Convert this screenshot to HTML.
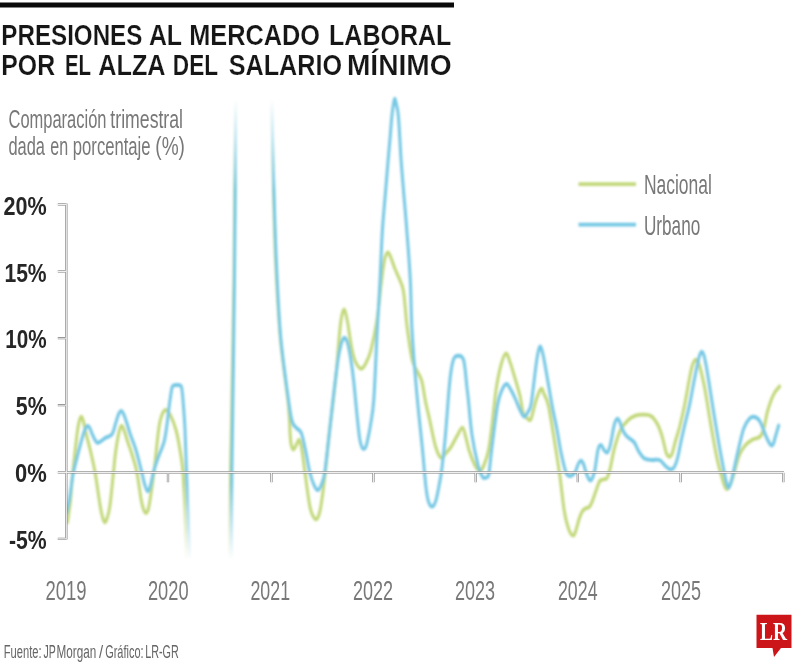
<!DOCTYPE html>
<html lang="es"><head><meta charset="utf-8"><title>Presiones al mercado laboral por el alza del salario mínimo</title>
<style>
html,body{margin:0;padding:0;background:#fff;}
body{width:800px;height:666px;overflow:hidden;font-family:"Liberation Sans",sans-serif;}
svg{display:block}
text{font-family:"Liberation Sans",sans-serif}
.t{font-weight:700;fill:#141414;stroke:#fff;stroke-width:0.2px}
.g{fill:#787878}
.f{fill:#666}
.yl{font-weight:700;fill:#262626}
.lr{font-family:"Liberation Serif",serif;font-weight:700;fill:#fff}
</style></head><body>
<svg width="800" height="666" viewBox="0 0 800 666">
<defs>
<linearGradient id="ft" x1="0" y1="0" x2="0" y2="1"><stop offset="0" stop-color="#fff" stop-opacity="1"/><stop offset="1" stop-color="#fff" stop-opacity="0"/></linearGradient>
<linearGradient id="fb" x1="0" y1="0" x2="0" y2="1"><stop offset="0" stop-color="#fff" stop-opacity="0"/><stop offset="1" stop-color="#fff" stop-opacity="1"/></linearGradient>
<filter id="bl" filterUnits="userSpaceOnUse" x="0" y="0" width="800" height="666"><feGaussianBlur stdDeviation="1.15"/></filter>
<filter id="ba" filterUnits="userSpaceOnUse" x="0" y="0" width="800" height="666"><feGaussianBlur stdDeviation="0.3"/></filter>
<filter id="bt" filterUnits="userSpaceOnUse" x="0" y="0" width="800" height="666"><feGaussianBlur stdDeviation="0.6"/></filter>
<clipPath id="cp"><rect x="66" y="80" width="734" height="500"/></clipPath>
</defs>
<rect width="800" height="666" fill="#fff"/>
<rect x="0" y="2.5" width="454" height="5" fill="#0a0a0a"/>
<g clip-path="url(#cp)"><g filter="url(#bl)">
<g transform="scale(0.78,1)" fill="none" stroke="#c2d87a" stroke-width="3.9" stroke-linecap="round" stroke-linejoin="round">
<path d="M86.5 522.0C86.9 520.2 87.8 514.7 88.5 511.0C89.1 507.3 89.6 506.5 90.4 500.0C91.2 493.5 92.2 481.2 93.3 472.0C94.5 462.8 96.2 452.0 97.2 445.0C98.2 438.0 98.7 434.1 99.5 430.0C100.3 425.9 101.0 422.7 101.8 420.5C102.6 418.3 103.3 416.5 104.1 416.6C104.9 416.7 105.7 417.9 106.8 421.0C107.9 424.1 109.2 429.8 110.8 435.0C112.4 440.2 114.4 445.8 116.3 452.0C118.1 458.2 119.8 463.2 121.8 472.0C123.8 480.8 126.6 497.4 128.2 505.0C129.8 512.6 130.5 514.6 131.5 517.5C132.6 520.4 133.5 522.4 134.5 522.4C135.5 522.4 136.5 520.4 137.6 517.5C138.7 514.6 139.7 512.6 141.0 505.0C142.4 497.4 144.3 480.8 145.5 472.0C146.7 463.2 147.1 458.2 148.2 452.0C149.3 445.8 150.7 438.9 151.9 434.5C153.1 430.1 154.3 426.6 155.5 425.9C156.7 425.2 157.8 427.8 159.2 430.5C160.6 433.2 162.1 437.9 163.8 442.0C165.6 446.1 167.6 450.0 169.5 455.0C171.4 460.0 173.5 464.5 175.4 472.0C177.3 479.5 179.6 493.8 181.0 500.0C182.5 506.2 183.1 507.3 184.1 509.5C185.1 511.7 186.2 513.0 187.2 513.0C188.2 513.0 189.1 511.7 190.0 509.5C190.9 507.3 191.1 506.2 192.3 500.0C193.5 493.8 195.6 483.7 197.4 472.0C199.3 460.3 201.7 439.3 203.3 430.0C204.9 420.7 205.6 419.3 207.1 416.0C208.5 412.7 210.4 410.1 212.3 410.0C214.2 409.9 216.4 412.2 218.6 415.5C220.8 418.8 223.6 424.2 225.6 430.0C227.7 435.8 229.3 443.0 230.8 450.0C232.3 457.0 233.5 461.3 234.6 472.0C235.7 482.7 236.3 497.7 237.2 514.0C238.0 530.3 239.3 560.7 239.7 570.0"/>
<path d="M294.4 570.0C294.6 553.7 294.7 520.3 295.6 472.0C296.6 423.7 298.8 343.3 299.9 280.0C300.9 216.7 301.7 123.3 302.1 92.0"/>
<path d="M348.2 92.0C348.6 106.7 349.5 152.0 350.4 180.0C351.2 208.0 351.9 234.2 353.3 260.0C354.8 285.8 357.0 315.0 359.1 335.0C361.2 355.0 364.2 368.8 365.9 380.0C367.6 391.2 368.5 395.3 369.4 402.0C370.2 408.7 370.7 414.3 371.2 420.0C371.6 425.7 371.6 431.7 372.1 436.0C372.5 440.3 373.0 443.8 373.7 446.0C374.4 448.2 375.2 449.5 376.2 449.5C377.1 449.5 378.0 447.6 379.2 446.0C380.4 444.4 382.2 439.8 383.3 439.8C384.5 439.8 385.4 443.4 386.2 446.0C386.9 448.6 387.3 451.0 388.1 455.3C388.9 459.6 389.4 463.6 390.9 472.0C392.4 480.4 395.3 498.5 397.1 505.8C398.8 513.1 399.9 513.8 401.3 516.0C402.7 518.2 404.1 519.6 405.4 519.3C406.7 519.0 408.1 517.0 409.2 514.0C410.4 510.9 411.1 508.0 412.4 501.0C413.7 494.0 415.5 482.8 417.1 472.0C418.6 461.2 420.1 448.0 421.8 436.0C423.5 424.0 425.7 411.0 427.3 400.0C428.9 389.0 430.3 379.2 431.4 370.0C432.5 360.8 433.0 353.3 434.0 345.0C434.9 336.7 436.0 325.9 437.2 320.0C438.4 314.1 439.7 309.5 441.0 309.5C442.4 309.5 443.8 315.2 445.1 320.0C446.4 324.8 447.6 332.7 448.7 338.0C449.9 343.3 450.6 347.8 451.9 352.0C453.2 356.2 454.5 360.2 456.4 363.0C458.3 365.8 461.2 368.7 463.3 368.7C465.5 368.7 467.2 366.1 469.2 363.0C471.3 359.9 473.3 357.2 475.6 350.0C478.0 342.8 481.2 330.8 483.3 320.0C485.5 309.2 486.9 295.0 488.5 285.0C490.1 275.0 491.5 265.4 492.9 260.0C494.4 254.6 496.0 252.8 497.4 252.5C498.8 252.2 499.8 255.2 501.3 258.0C502.8 260.8 504.0 264.2 506.4 269.0C508.9 273.8 513.9 281.0 516.0 287.0C518.2 293.0 518.3 298.5 519.2 305.0C520.2 311.5 520.3 317.0 521.8 326.0C523.3 335.0 526.1 351.5 528.2 359.0C530.3 366.5 532.6 367.4 534.6 371.0C536.7 374.6 538.7 375.3 540.5 380.5C542.4 385.7 544.0 395.6 545.6 402.0C547.3 408.4 548.5 411.7 550.6 419.0C552.7 426.3 555.8 439.6 558.2 446.0C560.6 452.4 562.9 456.4 565.1 457.6C567.4 458.8 569.6 454.8 571.8 453.0C574.0 451.2 575.9 449.8 578.2 447.0C580.6 444.2 583.4 439.2 585.9 436.0C588.4 432.8 591.0 427.3 592.9 427.6C594.9 427.9 596.0 434.3 597.4 438.0C598.8 441.7 599.8 446.2 601.3 450.0C602.8 453.8 604.8 458.0 606.4 461.0C608.0 464.0 609.5 466.3 611.0 468.0C612.5 469.7 613.8 471.5 615.4 471.0C617.0 470.5 618.7 468.5 620.5 465.0C622.4 461.5 624.7 456.7 626.4 450.0C628.1 443.3 629.2 435.0 630.8 425.0C632.4 415.0 634.0 400.0 635.9 390.0C637.8 380.0 640.2 371.1 642.3 365.0C644.4 358.9 646.8 353.9 648.7 353.4C650.6 352.9 652.1 358.4 653.8 362.0C655.6 365.6 656.8 369.3 659.0 375.0C661.1 380.7 664.7 389.7 666.7 396.0C668.6 402.3 669.0 408.9 670.5 412.6C672.0 416.3 674.1 416.8 675.6 418.0C677.2 419.2 678.6 421.0 679.9 420.0C681.2 419.0 682.1 415.4 683.3 412.0C684.6 408.6 685.8 403.3 687.6 399.4C689.3 395.5 692.2 389.7 693.8 388.8C695.5 387.9 695.9 391.1 697.4 394.0C699.0 396.9 700.8 397.4 703.2 406.0C705.6 414.6 709.4 434.1 711.8 445.7C714.2 457.3 715.7 464.5 717.7 475.5C719.7 486.5 721.6 502.7 723.6 511.8C725.6 520.9 727.6 526.0 729.5 530.0C731.4 534.0 733.5 535.6 735.0 535.6C736.5 535.6 737.2 532.9 738.5 530.0C739.7 527.1 741.3 521.6 742.7 518.4C744.1 515.2 745.5 512.6 746.8 511.0C748.1 509.4 749.2 509.2 750.6 508.5C752.1 507.8 754.0 508.1 755.4 507.0C756.8 505.9 757.6 504.5 759.0 502.0C760.3 499.5 761.9 495.4 763.5 492.0C765.1 488.6 767.0 483.6 768.6 481.5C770.2 479.4 771.5 480.1 773.1 479.5C774.7 478.9 776.7 479.8 778.2 478.0C779.7 476.2 780.4 474.0 782.1 469.0C783.7 464.0 785.6 454.5 787.8 448.0C790.1 441.5 792.6 434.6 795.5 430.0C798.4 425.4 801.9 422.6 805.1 420.2C808.3 417.8 811.5 416.5 814.7 415.6C817.9 414.7 821.0 414.5 824.4 414.6C827.7 414.7 831.5 414.4 834.6 416.0C837.7 417.6 840.7 421.2 843.1 424.5C845.4 427.8 846.9 431.4 848.7 436.0C850.5 440.6 852.6 448.7 853.8 452.0C855.1 455.3 855.5 455.0 856.3 455.8C857.1 456.6 857.8 456.9 858.7 456.6C859.6 456.3 860.3 456.6 861.5 454.0C862.8 451.4 864.4 445.5 866.0 441.0C867.6 436.5 869.3 433.0 871.3 427.0C873.2 421.0 875.7 412.7 877.7 405.0C879.7 397.3 881.8 387.4 883.3 381.0C884.9 374.6 886.0 369.9 887.2 366.5C888.3 363.1 889.3 361.9 890.3 360.8C891.2 359.7 892.0 359.5 892.9 360.0C893.9 360.5 894.4 359.5 896.2 364.0C897.9 368.5 900.7 377.2 903.2 387.0C905.7 396.8 908.3 411.5 910.9 423.0C913.5 434.5 916.3 447.5 918.6 456.0C920.8 464.5 922.6 469.1 924.4 474.0C926.1 478.9 927.6 483.0 928.8 485.5C930.1 488.0 930.9 489.0 932.1 489.0C933.2 489.0 934.4 487.5 935.6 485.5C936.9 483.5 937.8 481.9 939.7 477.0C941.7 472.1 944.9 461.2 947.4 456.0C950.0 450.8 952.2 448.3 955.1 445.6C958.0 442.9 961.7 441.1 964.9 439.6C968.1 438.1 972.0 438.4 974.4 436.6C976.7 434.8 977.5 433.3 979.1 429.0C980.7 424.7 982.0 416.8 984.1 411.0C986.2 405.2 989.2 398.6 991.8 394.5C994.4 390.4 998.2 387.8 999.5 386.4"/>
</g>
<g transform="scale(0.78,1)" fill="none" stroke="#76c8e4" stroke-width="3.9" stroke-linecap="round" stroke-linejoin="round">
<path d="M85.3 512.0C85.8 510.0 87.7 504.3 88.7 500.0C89.7 495.7 90.5 490.7 91.4 486.0C92.3 481.3 92.7 477.7 94.2 472.0C95.8 466.3 98.5 458.4 100.6 452.0C102.8 445.6 105.4 437.6 107.1 433.5C108.7 429.4 109.3 428.8 110.3 427.5C111.2 426.2 111.8 425.8 112.6 425.9C113.4 426.0 114.2 426.7 115.1 428.0C116.0 429.3 116.9 431.6 117.9 433.5C119.0 435.4 120.4 437.9 121.5 439.5C122.7 441.1 123.7 442.5 124.9 442.8C126.1 443.1 127.1 442.3 128.8 441.5C130.6 440.7 132.9 439.0 135.4 437.8C137.8 436.6 141.5 436.6 143.6 434.2C145.7 431.8 146.8 426.8 148.2 423.5C149.6 420.2 150.7 416.6 151.9 414.5C153.1 412.4 154.3 410.8 155.5 410.9C156.7 411.0 157.8 412.9 159.0 415.0C160.2 417.1 161.5 420.4 162.8 423.5C164.1 426.6 164.8 429.2 166.7 433.5C168.5 437.8 171.6 443.1 174.1 449.5C176.6 455.9 179.7 466.0 181.7 472.0C183.6 478.0 184.6 482.3 185.9 485.5C187.2 488.7 188.3 491.4 189.5 491.4C190.7 491.4 191.7 488.7 192.9 485.5C194.2 482.3 195.2 476.6 196.8 472.0C198.4 467.4 200.3 463.0 202.6 458.0C204.8 453.0 208.4 447.3 210.3 442.0C212.1 436.7 212.8 431.5 213.8 426.0C214.9 420.5 215.6 414.0 216.4 409.0C217.2 404.0 218.0 399.6 218.7 396.0C219.4 392.4 219.9 389.2 220.6 387.4C221.4 385.6 222.0 385.7 223.1 385.3C224.1 384.9 225.6 385.0 226.9 385.0C228.2 385.0 229.8 384.8 230.8 385.3C231.8 385.8 232.4 385.7 232.9 387.8C233.5 389.9 233.9 394.0 234.4 398.0C234.8 402.0 235.3 406.7 235.8 412.0C236.2 417.3 236.6 420.0 237.2 430.0C237.7 440.0 238.5 458.0 239.1 472.0C239.7 486.0 240.3 497.7 241.0 514.0C241.8 530.3 243.2 560.7 243.6 570.0"/>
<path d="M296.7 570.0C296.8 553.7 296.6 520.3 297.3 472.0C298.0 423.7 299.8 343.3 300.6 280.0C301.5 216.7 302.0 123.3 302.3 92.0"/>
<path d="M348.2 92.0C348.6 106.7 349.8 152.0 350.8 180.0C351.8 208.0 352.8 234.2 354.2 260.0C355.7 285.8 357.2 312.5 359.6 335.0C362.1 357.5 366.5 380.7 369.0 395.0C371.4 409.3 372.5 415.5 374.4 421.0C376.2 426.5 378.1 425.9 380.1 428.0C382.2 430.1 384.6 429.5 386.5 433.5C388.5 437.5 390.3 445.6 392.1 452.0C393.8 458.4 395.3 466.5 397.1 472.0C398.8 477.5 400.8 482.0 402.6 485.0C404.3 488.0 406.0 490.3 407.7 490.0C409.4 489.7 411.4 486.0 412.8 483.0C414.3 480.0 414.9 479.8 416.4 472.0C417.9 464.2 420.0 448.0 421.8 436.0C423.5 424.0 425.0 412.7 426.9 400.0C428.8 387.3 431.6 369.2 433.3 360.0C435.0 350.8 436.0 348.4 437.1 345.0C438.1 341.6 438.6 340.8 439.4 339.6C440.1 338.4 440.9 337.7 441.7 337.7C442.4 337.7 443.2 338.4 444.0 339.6C444.7 340.8 445.4 341.9 446.3 345.0C447.2 348.1 448.3 352.2 449.5 358.0C450.7 363.8 452.0 370.5 453.3 380.0C454.7 389.5 456.4 405.3 457.7 415.0C459.0 424.7 460.0 432.8 461.0 438.0C462.0 443.2 462.7 444.7 463.6 446.5C464.5 448.3 465.3 449.0 466.3 449.0C467.2 449.0 468.3 448.3 469.2 446.5C470.1 444.7 470.8 441.6 471.8 438.0C472.8 434.4 473.8 431.3 475.0 425.0C476.2 418.7 477.8 415.0 479.2 400.0C480.6 385.0 482.1 354.2 483.3 335.0C484.6 315.8 485.8 302.2 486.9 285.0C488.1 267.8 489.0 246.8 490.1 232.0C491.3 217.2 492.6 207.7 493.8 196.0C495.1 184.3 496.4 172.0 497.4 162.0C498.5 152.0 499.4 144.0 500.3 136.0C501.1 128.0 501.9 119.5 502.7 114.0C503.4 108.5 504.2 105.3 504.7 102.8C505.3 100.3 505.7 98.8 506.2 98.8C506.6 98.8 507.0 100.3 507.7 102.8C508.4 105.3 509.7 108.5 510.5 114.0C511.3 119.5 511.8 128.0 512.4 136.0C513.1 144.0 513.4 152.0 514.4 162.0C515.3 172.0 516.7 184.0 517.9 196.0C519.2 208.0 520.6 220.0 521.9 234.0C523.3 248.0 525.0 264.0 526.0 280.0C527.1 296.0 526.9 311.7 528.2 330.0C529.5 348.3 531.7 370.0 534.0 390.0C536.2 410.0 540.0 436.3 541.7 450.0C543.4 463.7 543.5 465.7 544.2 472.0C545.0 478.3 545.4 483.4 546.2 488.0C546.9 492.6 547.7 496.6 548.6 499.5C549.4 502.4 550.4 504.0 551.3 505.2C552.2 506.4 553.0 506.6 553.8 506.6C554.7 506.6 555.5 506.4 556.4 505.2C557.3 504.0 558.3 502.2 559.2 499.5C560.2 496.8 561.1 492.8 562.1 489.0C563.0 485.2 564.1 480.8 564.9 477.0C565.7 473.2 566.0 472.2 566.9 466.0C567.9 459.8 569.3 450.2 570.5 440.0C571.7 429.8 573.2 414.2 574.1 405.0C575.0 395.8 575.4 390.8 576.2 385.0C576.9 379.2 577.6 374.2 578.5 370.0C579.3 365.8 580.2 362.3 581.2 360.0C582.1 357.7 582.9 357.1 584.0 356.4C585.0 355.7 586.3 355.7 587.6 355.7C588.8 355.7 590.3 355.7 591.4 356.4C592.5 357.1 593.5 357.7 594.4 360.0C595.2 362.3 595.7 365.8 596.4 370.0C597.1 374.2 597.6 380.0 598.3 385.0C599.0 390.0 599.4 391.7 600.5 400.0C601.6 408.3 603.1 424.2 605.1 435.0C607.2 445.8 610.6 458.0 612.8 465.0C615.1 472.0 617.0 474.9 618.7 477.0C620.4 479.1 621.8 478.0 623.1 477.5C624.4 477.0 625.5 478.6 626.7 474.0C627.9 469.4 628.4 461.5 630.3 450.0C632.1 438.5 635.7 415.0 637.9 405.0C640.2 395.0 641.7 393.5 643.6 390.0C645.5 386.5 647.6 384.0 649.5 384.0C651.4 384.0 653.2 387.4 655.1 390.0C657.1 392.6 659.1 396.1 661.0 399.4C662.9 402.7 664.9 407.1 666.7 410.0C668.5 412.9 670.1 416.3 671.8 416.6C673.5 416.9 675.4 414.3 676.9 412.0C678.5 409.7 679.4 410.9 681.2 402.7C682.9 394.5 686.0 371.7 687.6 363.0C689.1 354.3 689.6 353.2 690.4 350.5C691.2 347.8 691.8 346.5 692.6 346.5C693.3 346.5 693.9 347.8 694.9 350.5C695.8 353.2 696.2 353.8 698.3 363.0C700.5 372.2 705.4 395.2 707.9 406.0C710.5 416.8 711.8 420.3 713.7 428.0C715.6 435.7 717.3 445.0 719.2 452.3C721.2 459.6 723.6 468.1 725.4 472.0C727.2 475.9 728.6 475.6 730.1 476.0C731.7 476.4 733.4 475.2 734.6 474.5C735.9 473.8 736.4 473.8 737.6 472.0C738.7 470.2 740.4 465.4 741.7 463.5C742.9 461.6 743.8 460.5 744.9 460.6C745.9 460.7 747.0 462.1 748.1 464.0C749.1 465.9 750.1 469.6 751.2 472.0C752.2 474.4 753.4 477.1 754.5 478.5C755.5 479.9 756.5 480.7 757.4 480.4C758.4 480.1 759.3 478.4 760.3 476.5C761.2 474.6 761.9 473.3 762.9 468.8C764.0 464.3 765.4 453.6 766.7 449.6C767.9 445.6 769.2 444.9 770.5 445.0C771.8 445.1 773.1 448.7 774.4 450.0C775.6 451.3 777.0 452.9 778.2 452.6C779.4 452.3 780.4 450.3 781.4 448.0C782.4 445.7 782.9 443.0 784.0 439.0C785.0 435.0 786.5 427.4 787.8 424.0C789.1 420.6 790.5 418.9 791.7 418.7C792.8 418.4 793.9 420.9 794.9 422.5C795.8 424.1 796.0 426.4 797.4 428.6C798.8 430.9 800.6 433.8 803.2 436.0C805.8 438.2 810.3 439.5 812.8 442.0C815.4 444.5 816.3 448.2 818.6 451.0C820.8 453.8 823.4 457.1 826.3 458.6C829.2 460.1 832.7 459.8 835.9 460.0C839.1 460.2 842.6 459.0 845.5 460.0C848.4 461.0 851.0 464.4 853.2 466.0C855.4 467.6 857.3 468.9 859.0 469.3C860.6 469.7 862.0 469.2 863.2 468.3C864.4 467.4 865.2 466.2 866.3 464.0C867.4 461.8 868.4 459.0 869.6 455.0C870.8 451.0 872.1 445.0 873.5 440.0C874.9 435.0 876.2 430.8 877.9 425.0C879.7 419.2 881.9 412.5 884.0 405.0C886.0 397.5 888.2 387.5 890.1 380.0C892.0 372.5 894.0 364.4 895.3 360.0C896.5 355.6 897.1 355.0 897.8 353.6C898.6 352.2 899.1 351.8 899.7 351.8C900.4 351.8 901.0 352.3 901.7 353.6C902.4 354.9 902.9 355.9 903.8 359.5C904.8 363.1 905.6 366.4 907.4 375.0C909.3 383.6 912.2 399.0 914.7 411.0C917.2 423.0 920.2 437.0 922.4 447.0C924.7 457.0 926.7 465.0 928.2 471.0C929.7 477.0 930.4 480.2 931.4 483.0C932.4 485.8 933.2 487.7 934.1 487.7C935.0 487.7 936.0 485.3 936.9 483.0C937.9 480.7 938.3 479.0 939.7 474.0C941.2 469.0 943.4 460.5 945.6 453.0C947.9 445.5 950.8 434.7 953.3 429.0C955.9 423.3 958.6 420.6 961.0 418.6C963.5 416.6 965.7 416.5 967.9 417.0C970.2 417.5 972.1 418.6 974.4 421.6C976.6 424.6 979.5 431.5 981.4 435.0C983.3 438.5 984.6 440.7 985.9 442.5C987.2 444.3 988.1 445.4 989.1 445.6C990.1 445.8 990.9 444.8 991.7 443.5C992.4 442.2 992.5 441.0 993.6 438.0C994.7 435.0 997.5 427.6 998.3 425.5"/>
</g>
</g></g>
<rect x="220" y="99" width="72" height="92" fill="url(#ft)"/>
<rect x="220" y="80" width="72" height="20" fill="#fff"/>
<rect x="174" y="484" width="72" height="76" fill="url(#fb)"/>
<rect x="174" y="559" width="72" height="16" fill="#fff"/>
<g filter="url(#ba)" fill="none" stroke-linecap="butt"><path d="M66.3 203.5V539.5M57.8 204.3H66.3M57.8 271.4H66.3M57.8 338.2H66.3M57.8 405.2H66.3M57.8 538.8H66.3M57.8 472.4H784M168 472.4V482.2M271.4 472.4V482.2M373.4 472.4V482.2M475.7 472.4V482.2M577.8 472.4V482.2M680.6 472.4V482.2M783.3 472.4V482.2" stroke="#7e7e7e" stroke-width="2.3"/><path d="M66.3 203.5V539.5M56.599999999999994 204.3H66.3M56.599999999999994 271.4H66.3M56.599999999999994 338.2H66.3M56.599999999999994 405.2H66.3M56.599999999999994 538.8H66.3M56.599999999999994 472.4H785.2M168 472.4V483.4M271.4 472.4V483.4M373.4 472.4V483.4M475.7 472.4V483.4M577.8 472.4V483.4M680.6 472.4V483.4M783.3 472.4V483.4" stroke="#f0f0f0" stroke-width="1.15"/></g>
<g filter="url(#bl)"><path d="M578.5 184.1H636" stroke="#c2d87a" stroke-width="3.6" fill="none"/>
<path d="M578.5 224.6H636" stroke="#76c8e4" stroke-width="3.6" fill="none"/></g>
<path d="M756.5 614.7H791.5V648H781L774 657L772.5 648H756.5Z" fill="#cb1519"/>
<g filter="url(#bt)">
<text class="t" x="1.36" y="44.7" font-size="29" textLength="140.97" lengthAdjust="spacingAndGlyphs">PRESIONES</text>
<text class="t" x="148.93" y="44.7" font-size="29" textLength="33.14" lengthAdjust="spacingAndGlyphs">AL</text>
<text class="t" x="189.17" y="44.7" font-size="29" textLength="130.85" lengthAdjust="spacingAndGlyphs">MERCADO</text>
<text class="t" x="329.04" y="44.7" font-size="29" textLength="122.30" lengthAdjust="spacingAndGlyphs">LABORAL</text>
<text class="t" x="1.29" y="74.8" font-size="29" textLength="53.77" lengthAdjust="spacingAndGlyphs">POR</text>
<text class="t" x="64.91" y="74.8" font-size="29" textLength="26.18" lengthAdjust="spacingAndGlyphs">EL</text>
<text class="t" x="98.36" y="74.8" font-size="29" textLength="67.19" lengthAdjust="spacingAndGlyphs">ALZA</text>
<text class="t" x="172.85" y="74.8" font-size="29" textLength="45.20" lengthAdjust="spacingAndGlyphs">DEL</text>
<text class="t" x="228.77" y="74.8" font-size="29" textLength="113.25" lengthAdjust="spacingAndGlyphs">SALARIO</text>
<text class="t" x="346.94" y="74.8" font-size="29" textLength="104.71" lengthAdjust="spacingAndGlyphs">MÍNIMO</text>
<text class="g" x="8.48" y="128.3" font-size="26.3" textLength="98.03" lengthAdjust="spacingAndGlyphs">Comparación</text>
<text class="g" x="110.37" y="128.3" font-size="26.3" textLength="72.65" lengthAdjust="spacingAndGlyphs">trimestral</text>
<text class="g" x="8.46" y="154.9" font-size="26.3" textLength="36.54" lengthAdjust="spacingAndGlyphs">dada</text>
<text class="g" x="50.27" y="154.9" font-size="26.3" textLength="17.86" lengthAdjust="spacingAndGlyphs">en</text>
<text class="g" x="72.86" y="154.9" font-size="26.3" textLength="77.66" lengthAdjust="spacingAndGlyphs">porcentaje</text>
<text class="g" x="155.33" y="154.9" font-size="26.3" textLength="29.64" lengthAdjust="spacingAndGlyphs">(%)</text>
<text class="yl" x="3.47" y="214.6" font-size="25.3" textLength="43.17" lengthAdjust="spacingAndGlyphs">20%</text>
<text class="yl" x="4.40" y="281.5" font-size="25.3" textLength="42.25" lengthAdjust="spacingAndGlyphs">15%</text>
<text class="yl" x="5.31" y="348.2" font-size="25.3" textLength="41.34" lengthAdjust="spacingAndGlyphs">10%</text>
<text class="yl" x="15.78" y="415.3" font-size="25.3" textLength="30.89" lengthAdjust="spacingAndGlyphs">5%</text>
<text class="yl" x="14.94" y="482" font-size="25.3" textLength="31.73" lengthAdjust="spacingAndGlyphs">0%</text>
<text class="yl" x="8.95" y="549" font-size="25.3" textLength="37.71" lengthAdjust="spacingAndGlyphs">-5%</text>
<text class="g" x="45.52" y="600.1" font-size="28" textLength="41.14" lengthAdjust="spacingAndGlyphs">2019</text>
<text class="g" x="147.95" y="600.1" font-size="28" textLength="40.60" lengthAdjust="spacingAndGlyphs">2020</text>
<text class="g" x="250.45" y="600.1" font-size="28" textLength="39.60" lengthAdjust="spacingAndGlyphs">2021</text>
<text class="g" x="352.94" y="600.1" font-size="28" textLength="40.11" lengthAdjust="spacingAndGlyphs">2022</text>
<text class="g" x="454.94" y="600.1" font-size="28" textLength="40.11" lengthAdjust="spacingAndGlyphs">2023</text>
<text class="g" x="557.97" y="600.1" font-size="28" textLength="39.56" lengthAdjust="spacingAndGlyphs">2024</text>
<text class="g" x="660.94" y="600.1" font-size="28" textLength="40.11" lengthAdjust="spacingAndGlyphs">2025</text>
<text class="g" x="643.96" y="193.5" font-size="27.5" textLength="67.90" lengthAdjust="spacingAndGlyphs">Nacional</text>
<text class="g" x="643.97" y="234.9" font-size="27.5" textLength="56.26" lengthAdjust="spacingAndGlyphs">Urbano</text>
<text class="f" x="3.77" y="658" font-size="18.8" textLength="37.87" lengthAdjust="spacingAndGlyphs">Fuente:</text>
<text class="f" x="43.41" y="658" font-size="18.8" textLength="12.29" lengthAdjust="spacingAndGlyphs">JP</text>
<text class="f" x="56.47" y="658" font-size="18.8" textLength="39.75" lengthAdjust="spacingAndGlyphs">Morgan</text>
<text class="f" x="99.00" y="658" font-size="18.8" textLength="4.09" lengthAdjust="spacingAndGlyphs">/</text>
<text class="f" x="105.15" y="658" font-size="18.8" textLength="38.41" lengthAdjust="spacingAndGlyphs">Gráfico:</text>
<text class="f" x="145.17" y="658" font-size="18.8" textLength="33.54" lengthAdjust="spacingAndGlyphs">LR-GR</text>
<text class="lr" x="759.96" y="639.5" font-size="24.5" textLength="27.04" lengthAdjust="spacingAndGlyphs">LR</text>
</g>
</svg>
</body></html>
